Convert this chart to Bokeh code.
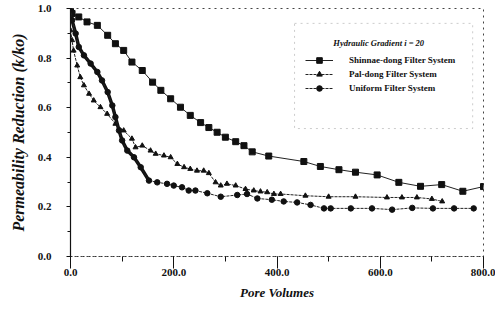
from bokeh.plotting import figure
from bokeh.models import (Range1d, NumeralTickFormatter, SingleIntervalTicker, Legend, LegendItem,
                          BoxAnnotation, Label)
from bokeh.embed import file_html
from bokeh.resources import INLINE

# ---- data ----
shinnae_x = [0, 3, 16, 32, 52, 72, 87, 103, 119, 139, 159, 175, 194, 213, 232, 252, 268, 284, 300,
             320, 336, 352, 384, 452, 484, 520, 552, 594, 636, 678, 719, 760, 800]
shinnae_y = [1.0, 0.98, 0.966, 0.946, 0.932, 0.892, 0.858, 0.831, 0.784, 0.75, 0.703, 0.67, 0.636,
             0.602, 0.569, 0.54, 0.52, 0.501, 0.481, 0.463, 0.447, 0.422, 0.405, 0.383, 0.363, 0.35,
             0.34, 0.329, 0.299, 0.283, 0.29, 0.263, 0.282]

pal_x = [0, 3, 6, 13, 19, 26, 36, 45, 58, 71, 87, 103, 119, 126, 139, 155, 165, 181, 194, 207, 220,
         232, 245, 258, 268, 281, 291, 303, 320, 339, 355, 368, 381, 394, 407, 455, 500, 552, 613,
         642, 671, 700, 720]
pal_y = [0.912, 0.872, 0.83, 0.77, 0.723, 0.69, 0.656, 0.629, 0.602, 0.575, 0.535, 0.508, 0.475,
         0.44, 0.447, 0.427, 0.414, 0.407, 0.4, 0.373, 0.36, 0.353, 0.346, 0.346, 0.336, 0.299,
         0.286, 0.293, 0.286, 0.272, 0.266, 0.262, 0.259, 0.252, 0.252, 0.245, 0.241, 0.241, 0.238,
         0.238, 0.238, 0.232, 0.222]

uniform_x = [0, 3, 10, 16, 26, 39, 52, 61, 72, 81, 87, 94, 100, 110, 123, 136, 152, 168, 187, 200,
             216, 229, 242, 265, 291, 323, 342, 362, 390, 413, 439, 465, 491, 504, 543, 584, 623,
             662, 702, 743, 781]
uniform_y = [1.0, 0.953, 0.899, 0.845, 0.811, 0.778, 0.744, 0.71, 0.663, 0.609, 0.562, 0.508, 0.468,
             0.427, 0.4, 0.36, 0.306, 0.299, 0.293, 0.286, 0.279, 0.266, 0.266, 0.255, 0.241, 0.248,
             0.252, 0.234, 0.229, 0.222, 0.218, 0.208, 0.194, 0.194, 0.194, 0.194, 0.189, 0.196,
             0.194, 0.194, 0.194]
uniform_thick_n = 17  # dense early part drawn as heavy line

labels = ["Shinnae-dong Filter System", "Pal-dong Filter System", "Uniform Filter System"]
legend_title = "Hydraulic Gradient i = 20"

FONT = "Liberation Serif"
INK = "#111111"

p = figure(frame_width=413, frame_height=248, output_backend="svg", toolbar_location=None,
           x_range=Range1d(0, 800), y_range=Range1d(0, 1.0),
           min_border_left=70, min_border_right=12, min_border_top=8, min_border_bottom=55,
           background_fill_color="white", border_fill_color="white")
p.grid.visible = False
p.outline_line_color = "#444444"
p.outline_line_dash = "dotted"
p.outline_line_width = 1

# axes
p.xaxis.ticker = SingleIntervalTicker(interval=200, num_minor_ticks=2)
p.yaxis.ticker = SingleIntervalTicker(interval=0.2, num_minor_ticks=2)
p.xaxis.formatter = NumeralTickFormatter(format="0.0")
p.yaxis.formatter = NumeralTickFormatter(format="0.0")
for ax in (p.xaxis[0], p.yaxis[0]):
    ax.major_label_text_font = FONT
    ax.major_label_text_font_style = "bold"
    ax.major_label_text_font_size = "11px"
    ax.major_label_text_color = INK
    ax.axis_label_text_font = FONT
    ax.axis_label_text_font_style = "bold italic"
    ax.axis_label_text_color = INK
    ax.major_tick_line_color = INK
    ax.minor_tick_line_color = INK
    ax.major_tick_in = 0
    ax.minor_tick_in = 0

p.xaxis.axis_label = "Pore Volumes"
p.xaxis.axis_label_text_font_size = "13px"
p.xaxis.major_tick_out = 12
p.xaxis.minor_tick_out = 5
p.xaxis.major_label_standoff = 0
p.xaxis.axis_label_standoff = 6
p.xaxis.axis_line_dash = "dotted"
p.xaxis.axis_line_color = "#333333"

p.yaxis.axis_label = "Permeability Reduction (k/ko)"
p.yaxis.axis_label_text_font_size = "16px"
p.yaxis.major_tick_out = 4
p.yaxis.minor_tick_out = 3
p.yaxis.major_label_standoff = 15
p.yaxis.axis_label_standoff = 8
p.yaxis.axis_line_color = INK
p.yaxis.axis_line_width = 1.2

# series
l1 = p.line(shinnae_x, shinnae_y, line_color="#222222", line_width=1)
s1 = p.scatter(shinnae_x, shinnae_y, marker="square", size=6, fill_color=INK, line_color=INK)

l2 = p.line(pal_x, pal_y, line_color="#222222", line_width=1, line_dash="3 1")
s2 = p.scatter(pal_x, pal_y, marker="triangle", size=5, fill_color=INK, line_color=INK)

p.line(uniform_x[:uniform_thick_n], uniform_y[:uniform_thick_n], line_color=INK, line_width=3.5)
l3 = p.line(uniform_x, uniform_y, line_color="#222222", line_width=1, line_dash="3 1")
s3 = p.scatter(uniform_x, uniform_y, marker="circle", size=5.5, fill_color=INK, line_color=INK)

# legend frame + title
p.add_layout(BoxAnnotation(left=434, right=779, bottom=0.516, top=0.94,
                           fill_alpha=0, line_color="#555555", line_dash="dotted", line_width=1))
p.add_layout(Label(x=597, y=0.86, text=legend_title, text_align="center", text_baseline="middle",
                   text_font=FONT, text_font_style="bold italic", text_font_size="8.5px",
                   text_color=INK))

legend = Legend(items=[LegendItem(label=labels[0], renderers=[l1, s1]),
                       LegendItem(label=labels[1], renderers=[l2, s2]),
                       LegendItem(label=labels[2], renderers=[l3, s3])],
                location=(235, 161), orientation="vertical",
                glyph_width=28, glyph_height=14, spacing=0, padding=0, margin=0,
                label_standoff=16, label_text_font=FONT, label_text_font_style="bold",
                label_text_font_size="9px", label_text_color=INK,
                border_line_color=None, background_fill_alpha=0)
p.add_layout(legend)

open("out.html", "w").write(file_html(p, INLINE))
